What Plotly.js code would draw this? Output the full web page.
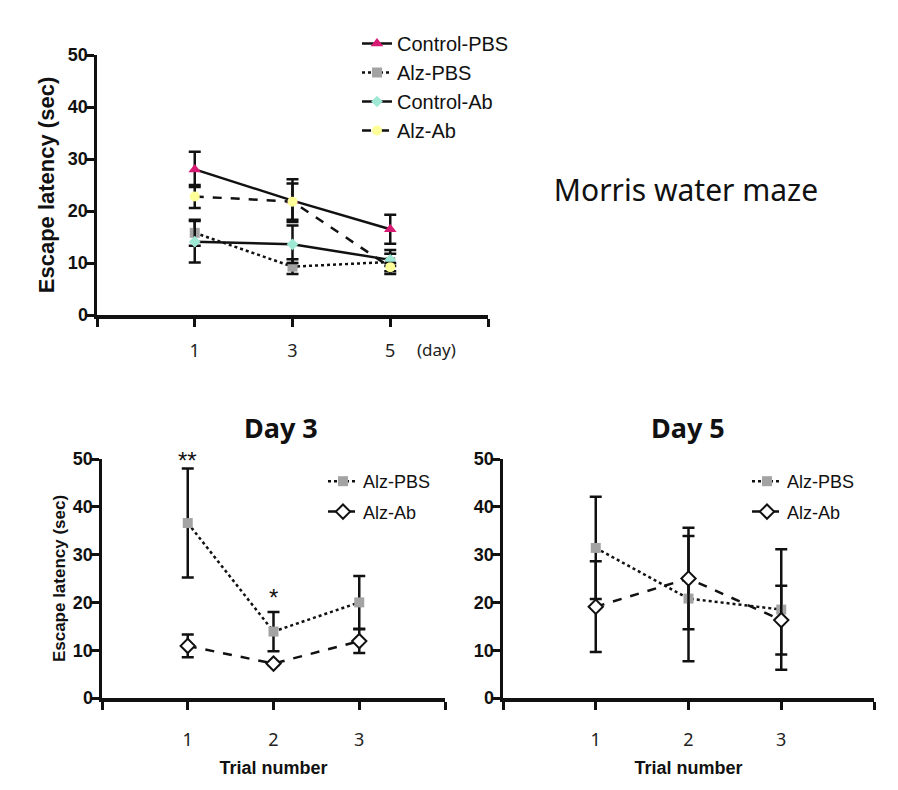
<!DOCTYPE html>
<html>
<head>
<meta charset="utf-8">
<script src="https://cdn.plot.ly/plotly-3.0.1.min.js"></script>
<style>html,body{margin:0;padding:0;background:#fff;}#chart{width:898px;height:790px;}</style>
</head>
<body>
<div id="chart"></div>
<script>
// ---- Top chart: Morris water maze by day ----
const days = [1, 3, 5];
const ctrlPBS = [28.0, 22.0, 16.5];
const ctrlPBSErr = [3.4, 4.1, 2.8];
const alzPBS = [15.8, 9.3, 10.2];
const alzPBSErr = [2.5, 1.4, 2.3];
const ctrlAb = [14.1, 13.6, 10.6];
const ctrlAbErr = [4.0, 3.6, 1.2];
const alzAb = [22.8, 21.8, 9.2];
const alzAbErr = [2.2, 3.5, 0.8];

// ---- Bottom charts: trials ----
const trials = [1, 2, 3];
const d3AlzPBS = [36.6, 13.9, 20.0];
const d3AlzPBSErr = [11.4, 4.1, 5.5];
const d3AlzAb = [10.9, 7.2, 11.9];
const d3AlzAbErr = [2.4, 0.3, 2.5];
const d5AlzPBS = [31.4, 20.8, 18.5];
const d5AlzPBSErr = [10.7, 13.1, 12.6];
const d5AlzAb = [19.1, 25.0, 16.3];
const d5AlzAbErr = [9.5, 10.6, 7.2];

const dayTickVals = [-1, 1, 3, 5, 7];
const dayTickText = ['', '1', '3', '5', ''];
const trialTickVals = [0, 1, 2, 3, 4];
const trialTickText = ['', '1', '2', '3', ''];

const ARIAL = 'Liberation Sans, Arial, sans-serif';
const NOTO = 'Noto Sans, sans-serif';

function err(arr) {
  return {type: 'data', array: arr, visible: true, color: '#111', thickness: 2.5, width: 6};
}

const traces = [
  {x: days, y: ctrlPBS, error_y: err(ctrlPBSErr), name: 'Control-PBS', mode: 'lines+markers',
   line: {color: '#111', width: 2.5, dash: 'solid'},
   marker: {symbol: 'triangle-up', size: 11, color: '#d81b72'}, xaxis: 'x', yaxis: 'y', legend: 'legend', legendgroup: 'a'},
  {x: days, y: alzPBS, error_y: err(alzPBSErr), name: 'Alz-PBS', mode: 'lines+markers',
   line: {color: '#111', width: 2.5, dash: 'dot'},
   marker: {symbol: 'square', size: 10, color: '#a3a3a3'}, xaxis: 'x', yaxis: 'y', legend: 'legend', legendgroup: 'b'},
  {x: days, y: ctrlAb, error_y: err(ctrlAbErr), name: 'Control-Ab', mode: 'lines+markers',
   line: {color: '#111', width: 2.5, dash: 'solid'},
   marker: {symbol: 'diamond', size: 9, color: '#9fe8d6'}, xaxis: 'x', yaxis: 'y', legend: 'legend', legendgroup: 'c'},
  {x: days, y: alzAb, error_y: err(alzAbErr), name: 'Alz-Ab', mode: 'lines+markers',
   line: {color: '#111', width: 2.5, dash: 'dash'},
   marker: {symbol: 'circle', size: 10, color: '#ffff99'}, xaxis: 'x', yaxis: 'y', legend: 'legend', legendgroup: 'd'},

  {x: trials, y: d3AlzPBS, error_y: err(d3AlzPBSErr), name: 'Alz-PBS', mode: 'lines+markers',
   line: {color: '#111', width: 2.5, dash: 'dot'},
   marker: {symbol: 'square', size: 10, color: '#a3a3a3'}, xaxis: 'x2', yaxis: 'y2', legend: 'legend2', legendgroup: 'e'},
  {x: trials, y: d3AlzAb, error_y: err(d3AlzAbErr), name: 'Alz-Ab', mode: 'lines+markers',
   line: {color: '#111', width: 2.5, dash: 'dash'},
   marker: {symbol: 'diamond', size: 11, color: '#fff', line: {color: '#111', width: 2}}, xaxis: 'x2', yaxis: 'y2', legend: 'legend2', legendgroup: 'f'},

  {x: trials, y: d5AlzPBS, error_y: err(d5AlzPBSErr), name: 'Alz-PBS', mode: 'lines+markers',
   line: {color: '#111', width: 2.5, dash: 'dot'},
   marker: {symbol: 'square', size: 10, color: '#a3a3a3'}, xaxis: 'x3', yaxis: 'y3', legend: 'legend3', legendgroup: 'g'},
  {x: trials, y: d5AlzAb, error_y: err(d5AlzAbErr), name: 'Alz-Ab', mode: 'lines+markers',
   line: {color: '#111', width: 2.5, dash: 'dash'},
   marker: {symbol: 'diamond', size: 11, color: '#fff', line: {color: '#111', width: 2}}, xaxis: 'x3', yaxis: 'y3', legend: 'legend3', legendgroup: 'h'}
];

const W = 898, H = 790;
function px2x(p) { return p / W; }
function px2y(p) { return 1 - p / H; }

const xBase = {
  showgrid: false, zeroline: false, showline: true, linecolor: '#111', linewidth: 3.5,
  ticks: 'outside', ticklen: 8, tickwidth: 3, tickcolor: '#111',
  tickfont: {family: NOTO, size: 18, color: '#222'}, ticklabelstandoff: 9, fixedrange: true
};
const yBase = {
  showgrid: false, zeroline: false, showline: true, linecolor: '#111', linewidth: 3.5,
  ticks: 'outside', ticklen: 8, tickwidth: 3, tickcolor: '#111', range: [0, 50],
  tickvals: [0, 10, 20, 30, 40, 50],
  tickfont: {family: ARIAL, size: 18, color: '#111', weight: 'bold'}, ticklabelstandoff: -6, fixedrange: true
};

const layout = {
  width: W, height: H, margin: {l: 0, r: 0, t: 0, b: 0},
  paper_bgcolor: '#fff', plot_bgcolor: '#fff', showlegend: true,
  title: {text: 'Morris water maze', x: 686 / W, y: px2y(190), xanchor: 'center', yanchor: 'middle',
          font: {family: NOTO, size: 30, color: '#111'}},
  xaxis: Object.assign({}, xBase, {domain: [px2x(97), px2x(488)], range: [-1, 7],
          tickvals: dayTickVals, ticktext: dayTickText, anchor: 'y'}),
  yaxis: Object.assign({}, yBase, {domain: [px2y(315), px2y(55)], anchor: 'x',
          title: {text: 'Escape latency (sec)', standoff: 8, font: {family: ARIAL, size: 22, color: '#111', weight: 'bold'}}}),
  xaxis2: Object.assign({}, xBase, {domain: [px2x(102), px2x(445)], range: [0, 4],
          tickvals: trialTickVals, ticktext: trialTickText, anchor: 'y2', ticklabelstandoff: 15,
          title: {text: 'Trial number', standoff: 12, font: {family: ARIAL, size: 18, color: '#111', weight: 'bold'}}}),
  yaxis2: Object.assign({}, yBase, {domain: [px2y(698), px2y(459)], anchor: 'x2',
          title: {text: 'Escape latency (sec)', standoff: 4, font: {family: ARIAL, size: 17, color: '#111', weight: 'bold'}}}),
  xaxis3: Object.assign({}, xBase, {domain: [px2x(503), px2x(874)], range: [0, 4],
          tickvals: trialTickVals, ticktext: trialTickText, anchor: 'y3', ticklabelstandoff: 15,
          title: {text: 'Trial number', standoff: 12, font: {family: ARIAL, size: 18, color: '#111', weight: 'bold'}}}),
  yaxis3: Object.assign({}, yBase, {domain: [px2y(698), px2y(459)], anchor: 'x3'}),
  legend: {x: px2x(357), y: px2y(24), xanchor: 'left', yanchor: 'top', bgcolor: 'rgba(0,0,0,0)',
           font: {family: ARIAL, size: 20, color: '#111'}, traceorder: 'grouped', tracegroupgap: 0},
  legend2: {x: px2x(323), y: px2y(463), xanchor: 'left', yanchor: 'top', bgcolor: 'rgba(0,0,0,0)',
           font: {family: ARIAL, size: 18, color: '#111'}, traceorder: 'grouped', tracegroupgap: 4},
  legend3: {x: px2x(747), y: px2y(463), xanchor: 'left', yanchor: 'top', bgcolor: 'rgba(0,0,0,0)',
           font: {family: ARIAL, size: 18, color: '#111'}, traceorder: 'grouped', tracegroupgap: 4},
  annotations: [
    {text: '(day)', xref: 'paper', yref: 'paper', x: px2x(436), y: px2y(349), xanchor: 'center', yanchor: 'middle',
     showarrow: false, font: {family: NOTO, size: 17, color: '#222'}},
    {text: 'Day 3', xref: 'paper', yref: 'paper', x: px2x(281), y: px2y(427), xanchor: 'center', yanchor: 'middle',
     showarrow: false, font: {family: NOTO, size: 27, color: '#111', weight: 'bold'}},
    {text: 'Day 5', xref: 'paper', yref: 'paper', x: px2x(688), y: px2y(427), xanchor: 'center', yanchor: 'middle',
     showarrow: false, font: {family: NOTO, size: 27, color: '#111', weight: 'bold'}},
    {text: '**', xref: 'x2', yref: 'paper', x: 1, y: px2y(460), xanchor: 'center', yanchor: 'middle',
     showarrow: false, font: {family: ARIAL, size: 24, color: '#111'}},
    {text: '*', xref: 'x2', yref: 'paper', x: 2, y: px2y(597), xanchor: 'center', yanchor: 'middle',
     showarrow: false, font: {family: ARIAL, size: 24, color: '#111'}}
  ]
};

Plotly.newPlot('chart', traces, layout, {displayModeBar: false, staticPlot: true});
</script>
</body>
</html>
